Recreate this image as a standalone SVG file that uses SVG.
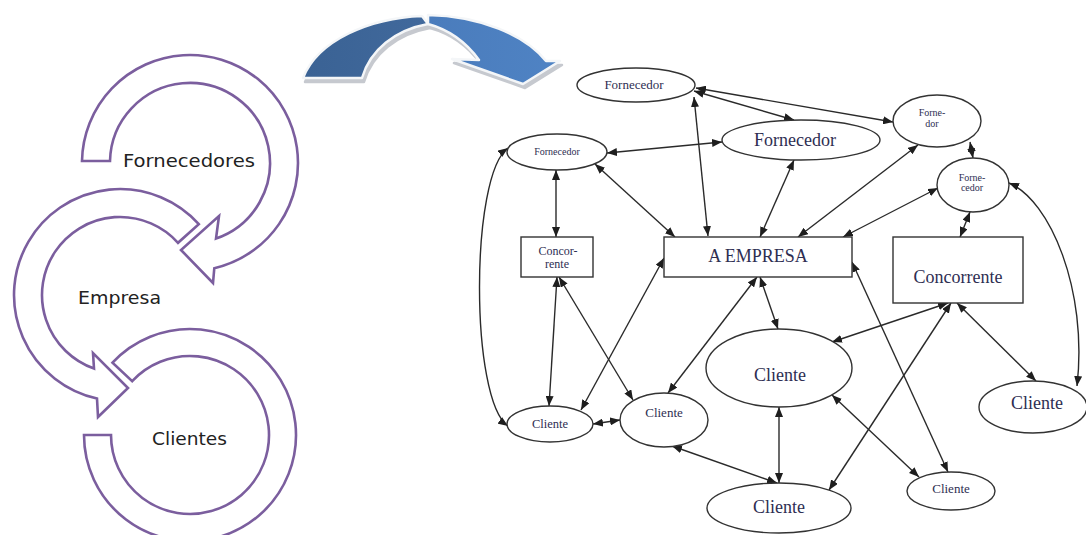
<svg xmlns="http://www.w3.org/2000/svg" width="1086" height="535" viewBox="0 0 1086 535">
  <defs>
    <style>
      .band { fill: #ffffff; stroke: #7b5e9e; stroke-width: 2.6; stroke-linejoin: miter; }
      .cyc { font-family: "DejaVu Sans", "Liberation Sans", sans-serif; fill: #222222; }
      .node { fill: #ffffff; stroke: #333333; stroke-width: 1.4; }
      .lbl { font-family: "Liberation Serif", "Times New Roman", serif; fill: #2e2e52; text-anchor: middle; }
      .e { fill: none; stroke: #2a2a2a; stroke-width: 1.4; marker-start: url(#ah); marker-end: url(#ah); }
      .shade { fill: #c6c9cf; stroke: #c6c9cf; stroke-width: 2.5; stroke-linejoin: round; }
      .rim { stroke: #f4f6f8; stroke-width: 2.5; stroke-linejoin: round; }
    </style>
    <marker id="ah" viewBox="0 0 10 8" refX="10" refY="4" markerWidth="10" markerHeight="8" markerUnits="userSpaceOnUse" orient="auto-start-reverse">
      <path d="M0,0 L10,4 L0,8 z" fill="#1e1e1e"/>
    </marker>
    <linearGradient id="blueBack" x1="0" y1="0" x2="1" y2="0">
      <stop offset="0" stop-color="#3a6294"/>
      <stop offset="1" stop-color="#41699c"/>
    </linearGradient>
    <linearGradient id="blueFront" x1="0" y1="0" x2="1" y2="0">
      <stop offset="0" stop-color="#4a7cbc"/>
      <stop offset="1" stop-color="#4f83c4"/>
    </linearGradient>
    <path id="arcBack" d="M303,78 C318,40 370,18 422,16 L428,24 C395,30 370,50 362,78 Z"/>
    <path id="arcFront" d="M428,15 C480,16 525,35 546,61 L560,61 L523,84 L452,59 L479,60 C466,42 450,30 428,24 Z"/>
  </defs>

  <!-- cycle: three curved arrows -->
  <g id="cycle">
    <g id="arrow-fornecedores">
      <path class="band" d="M82,161 A108,108 0 1 1 214.3,268.2 L213,283 L181,250 L219,216 L216,238.6 A80,80 0 1 0 110,161 Z"/>
      <text class="cyc" x="123" y="167" font-size="18" textLength="132" lengthAdjust="spacingAndGlyphs">Fornecedores</text>
    </g>
    <g id="arrow-empresa">
      <path class="band" d="M198.8,224.1 A106,106 0 1 0 97,398.5 L98,417 L128,388 L93,353 L94,368.5 A78,78 0 1 1 178,242.8 Z"/>
      <text class="cyc" x="78" y="304" font-size="18" textLength="83" lengthAdjust="spacingAndGlyphs">Empresa</text>
    </g>
    <g id="arrow-clientes">
      <path class="band" d="M112.5,362.7 A106,106 0 1 1 84,435 L111,435 A79,79 0 1 0 132.2,381.1 Z"/>
      <text class="cyc" x="152" y="445" font-size="18" textLength="75" lengthAdjust="spacingAndGlyphs">Clientes</text>
    </g>
  </g>

  <!-- big curved transition arrow -->
  <g id="transition-arrow">
    <use href="#arcBack" class="shade" transform="translate(2,4)"/>
    <use href="#arcFront" class="shade" transform="translate(2,4)"/>
    <use href="#arcBack" class="rim" fill="url(#blueBack)"/>
    <use href="#arcFront" class="rim" fill="url(#blueFront)"/>
  </g>

  <!-- connectors -->
  <g id="connectors">
    <line class="e" x1="694" y1="91" x2="794" y2="120"/>
    <line class="e" x1="696" y1="88" x2="893" y2="122"/>
    <line class="e" x1="694" y1="97" x2="708" y2="236"/>
    <line class="e" x1="607" y1="153" x2="722" y2="142"/>
    <line class="e" x1="556" y1="170" x2="556" y2="237"/>
    <line class="e" x1="595" y1="164" x2="675" y2="237"/>
    <path class="e" d="M508,148 C470,175 470,400 508,426"/>
    <line class="e" x1="794" y1="160" x2="760" y2="237"/>
    <line class="e" x1="918" y1="145" x2="798" y2="237"/>
    <line class="e" x1="970" y1="142" x2="973" y2="158"/>
    <line class="e" x1="938" y1="188" x2="843" y2="237"/>
    <line class="e" x1="970" y1="212" x2="960" y2="237"/>
    <path class="e" d="M1009,183 C1050,200 1088,290 1077,386"/>
    <line class="e" x1="557" y1="277" x2="549" y2="406"/>
    <line class="e" x1="559" y1="277" x2="633" y2="400"/>
    <line class="e" x1="664" y1="258" x2="581" y2="410"/>
    <line class="e" x1="757" y1="277" x2="668" y2="393"/>
    <line class="e" x1="760" y1="277" x2="778" y2="329"/>
    <line class="e" x1="852" y1="262" x2="948" y2="472"/>
    <line class="e" x1="593" y1="424" x2="620" y2="420"/>
    <line class="e" x1="948" y1="303" x2="832" y2="342"/>
    <line class="e" x1="951" y1="303" x2="829" y2="490"/>
    <line class="e" x1="957" y1="303" x2="1036" y2="381"/>
    <line class="e" x1="779" y1="407" x2="779" y2="483"/>
    <line class="e" x1="832" y1="395" x2="919" y2="477"/>
    <line class="e" x1="672" y1="446" x2="777" y2="483"/>
  </g>

  <!-- nodes -->
  <g id="fornecedor-1">
    <ellipse class="node" cx="636" cy="85" rx="59" ry="17"/>
    <text class="lbl" x="634" y="89" font-size="13">Fornecedor</text>
  </g>
  <g id="fornecedor-2">
    <ellipse class="node" cx="557" cy="152" rx="50" ry="18"/>
    <text class="lbl" x="557" y="155" font-size="10">Fornecedor</text>
  </g>
  <g id="fornecedor-3">
    <ellipse class="node" cx="801" cy="140" rx="79" ry="20"/>
    <text class="lbl" x="795" y="146" font-size="18">Fornecedor</text>
  </g>
  <g id="fornecedor-4">
    <ellipse class="node" cx="937" cy="121" rx="44" ry="26"/>
    <text class="lbl" x="932" y="116" font-size="10">Forne-</text>
    <text class="lbl" x="932" y="127" font-size="10">dor</text>
  </g>
  <g id="fornecedor-5">
    <ellipse class="node" cx="973" cy="185" rx="36" ry="27"/>
    <text class="lbl" x="972" y="181" font-size="10">Forne-</text>
    <text class="lbl" x="972" y="191" font-size="10">cedor</text>
  </g>
  <g id="concorrente-small">
    <rect class="node" x="521" y="237" width="72" height="40"/>
    <text class="lbl" x="558" y="255" font-size="12">Concor-</text>
    <text class="lbl" x="557" y="268" font-size="12">rente</text>
  </g>
  <g id="empresa">
    <rect class="node" x="664" y="237" width="188" height="40"/>
    <text class="lbl" x="758" y="262" font-size="18">A EMPRESA</text>
  </g>
  <g id="concorrente">
    <rect class="node" x="893" y="237" width="130" height="66"/>
    <text class="lbl" x="958" y="283" font-size="18">Concorrente</text>
  </g>
  <g id="cliente-1">
    <ellipse class="node" cx="779" cy="368" rx="73" ry="39"/>
    <text class="lbl" x="780" y="381" font-size="18">Cliente</text>
  </g>
  <g id="cliente-2">
    <ellipse class="node" cx="1033" cy="407" rx="54" ry="26"/>
    <text class="lbl" x="1037" y="409" font-size="18">Cliente</text>
  </g>
  <g id="cliente-3">
    <ellipse class="node" cx="951" cy="491" rx="44" ry="19"/>
    <text class="lbl" x="951" y="493" font-size="13">Cliente</text>
  </g>
  <g id="cliente-4">
    <ellipse class="node" cx="779" cy="508" rx="72" ry="25"/>
    <text class="lbl" x="779" y="513" font-size="18">Cliente</text>
  </g>
  <g id="cliente-5">
    <ellipse class="node" cx="664" cy="420" rx="44" ry="27"/>
    <text class="lbl" x="664" y="417" font-size="13">Cliente</text>
  </g>
  <g id="cliente-6">
    <ellipse class="node" cx="550" cy="424" rx="43" ry="18"/>
    <text class="lbl" x="550" y="428" font-size="12.5">Cliente</text>
  </g>
</svg>
